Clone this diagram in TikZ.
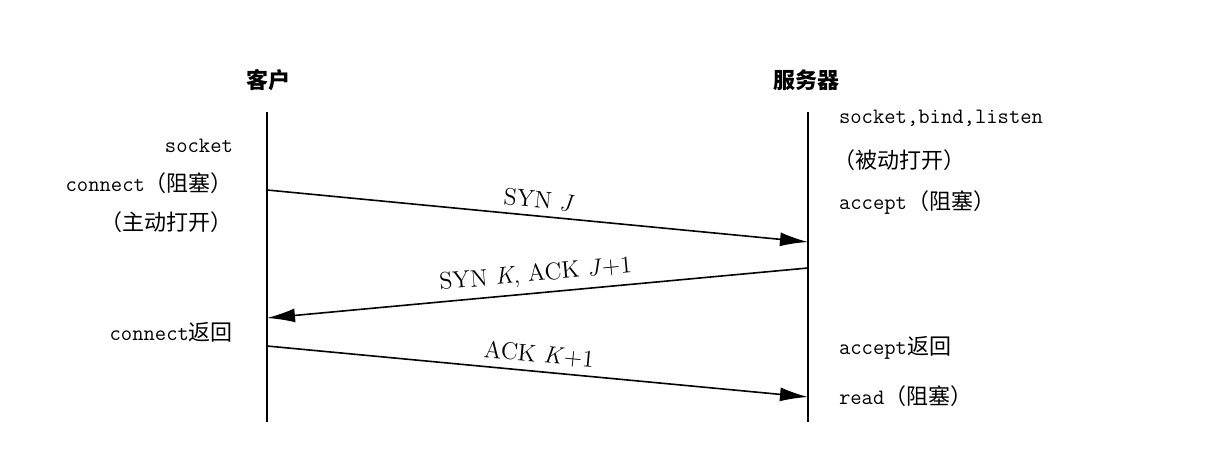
\documentclass[tikz,border=0pt]{standalone}
\usepackage{fontspec}
\newfontfamily\cjk{Noto Sans CJK SC}
\usetikzlibrary{arrows.meta}
\begin{document}
\begin{tikzpicture}[x=0.5pt,y=-0.5pt,
  life/.style={line width=0.8pt},
  msg/.style={line width=0.8pt,-{Latex[length=14pt,width=7pt]}},
  lt/.style={anchor=east,font=\fontsize{11}{13}\selectfont},
  rt/.style={anchor=west,font=\fontsize{11}{13}\selectfont},
  hd/.style={font=\fontsize{11}{13}\selectfont\cjk\bfseries},
  lab/.style={font=\fontsize{12}{14}\selectfont,sloped,above}]
\useasboundingbox (0,0) rectangle (1212,460);
\node[hd] (c) at (268,80) {客户};
\node[hd] (s) at (806,80) {服务器};
\coordinate (ct) at (267,112); \coordinate (cb) at (267,422);
\coordinate (st) at (808,112); \coordinate (sb) at (808,422);
\draw[life] (ct) -- (cb);
\draw[life] (st) -- (sb);
\coordinate (a1) at (267,190); \coordinate (b1) at (808,242);
\coordinate (a2) at (808,268); \coordinate (b2) at (267,318);
\coordinate (a3) at (267,346); \coordinate (b3) at (808,397);
\draw[msg] (a1) -- node[lab] {SYN \textit{J}} (b1);
\draw[msg] (a2) -- node[lab] {SYN \textit{K}, ACK \textit{J}+1} (b2);
\draw[msg] (a3) -- node[lab] {ACK \textit{K}+1} (b3);
\node[lt] (l1) at (240,146) {\ttfamily socket};
\node[lt] (l2) at (240,183) {\ttfamily connect\cjk（阻塞）};
\node[lt] (l3) at (240,222) {\cjk（主动打开）};
\node[lt] (l4) at (240,332) {\ttfamily connect\cjk 返回};
\node[rt] (r1) at (832,118) {\ttfamily socket,bind,listen};
\node[rt] (r2) at (826,160) {\cjk（被动打开）};
\node[rt] (r3) at (832,203) {\ttfamily accept\cjk（阻塞）};
\node[rt] (r4) at (832,348) {\ttfamily accept\cjk 返回};
\node[rt] (r5) at (832,396) {\ttfamily read\cjk（阻塞）};
\end{tikzpicture}
\end{document}
